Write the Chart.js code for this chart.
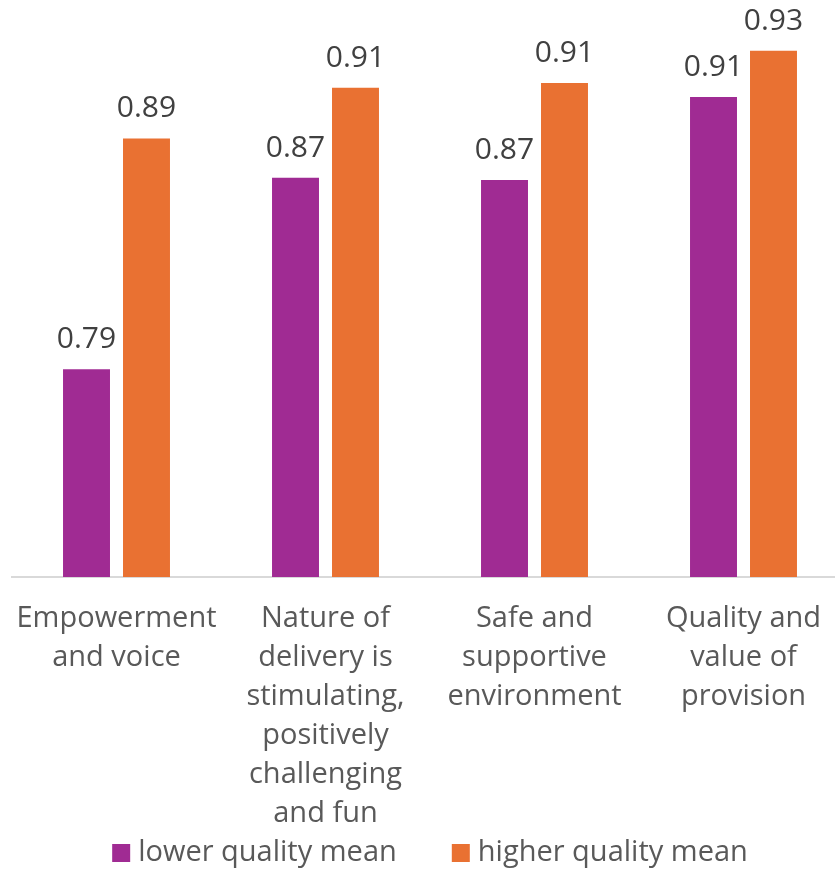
<!DOCTYPE html>
<html>
<head>
<meta charset="utf-8">
<script src="https://cdn.jsdelivr.net/npm/chart.js@4"></script>
<style>
  html, body { margin: 0; padding: 0; background: #ffffff; overflow: hidden; }
  #wrap { width: 860px; height: 872px; }
</style>
</head>
<body>
<div id="wrap"><canvas id="chart" width="860" height="872"></canvas></div>
<script>
// Category labels, one array entry per wrapped line
const categories = [
  ['Empowerment', 'and voice'],
  ['Nature of', 'delivery is', 'stimulating,', 'positively', 'challenging', 'and fun'],
  ['Safe and', 'supportive', 'environment'],
  ['Quality and', 'value of', 'provision']
];
const seriesNames = ['lower quality mean', 'higher quality mean'];
const lowerMean  = [0.79, 0.873, 0.872, 0.908];
const higherMean = [0.89, 0.912, 0.914, 0.928];
const axisMin = 0.70;
const axisMax = 0.95;

const FONT = '"Open Sans", "DejaVu Sans", sans-serif';
const PURPLE = '#A02B93';
const ORANGE = '#E97132';

// Writes each bar's value just above it
const valueLabels = {
  id: 'valueLabels',
  afterDatasetsDraw(chart) {
    const ctx = chart.ctx;
    ctx.save();
    ctx.font = '30px ' + FONT;
    ctx.fillStyle = '#404040';
    ctx.textAlign = 'center';
    ctx.textBaseline = 'alphabetic';
    chart.data.datasets.forEach((ds, i) => {
      chart.getDatasetMeta(i).data.forEach((bar, j) => {
        ctx.fillText(ds.data[j].toFixed(2), bar.x, bar.y - 21);
      });
    });
    ctx.restore();
  }
};

// Single-row legend centred under the plot: square swatch, label, wide gap
const bottomLegend = {
  id: 'bottomLegend',
  afterDraw(chart, args, opts) {
    const ctx = chart.ctx;
    const box = 18, gapText = 8, gapItem = 55;
    ctx.save();
    ctx.font = '29px ' + FONT;
    ctx.textBaseline = 'middle';
    ctx.textAlign = 'left';
    const items = chart.data.datasets.map(ds => ({
      text: ds.label, color: ds.backgroundColor, w: ctx.measureText(ds.label).width
    }));
    const total = items.reduce((s, it) => s + box + gapText + it.w, 0) + gapItem * (items.length - 1);
    let x = chart.width / 2 - total / 2;
    const y = opts.y;
    items.forEach(it => {
      ctx.fillStyle = it.color;
      ctx.fillRect(x, y - box / 2, box, box);
      x += box + gapText;
      ctx.fillStyle = '#595959';
      ctx.fillText(it.text, x, y);
      x += it.w + gapItem;
    });
    ctx.restore();
  }
};

new Chart(document.getElementById('chart'), {
  type: 'bar',
  data: {
    labels: categories,
    datasets: [
      { label: seriesNames[0], data: lowerMean, backgroundColor: PURPLE,
        categoryPercentage: 0.574, barPercentage: 0.783 },
      { label: seriesNames[1], data: higherMean, backgroundColor: ORANGE,
        categoryPercentage: 0.574, barPercentage: 0.783 }
    ]
  },
  options: {
    responsive: false,
    animation: false,
    devicePixelRatio: 1,
    layout: { padding: { left: 12, right: 12, top: 0, bottom: 17 } },
    scales: {
      y: { display: false, min: axisMin, max: axisMax },
      x: {
        grid: { display: false, drawTicks: false },
        border: { display: true, color: '#d9d9d9', width: 2 },
        ticks: {
          color: '#595959',
          font: { family: FONT, size: 29, lineHeight: 39 / 29 },
          padding: 22,
          maxRotation: 0,
          autoSkip: false
        },
        // labels fit inside their categories, so no extra side padding is needed
        afterFit(scale) { scale.paddingLeft = 0; scale.paddingRight = 0; }
      }
    },
    plugins: {
      legend: { display: false },
      tooltip: { enabled: false },
      bottomLegend: { y: 853 }
    }
  },
  plugins: [valueLabels, bottomLegend]
});
</script>
</body>
</html>
